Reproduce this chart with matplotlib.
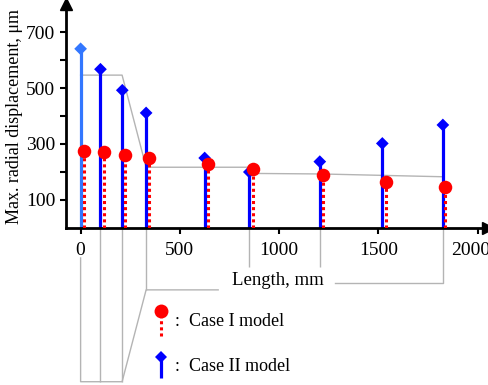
import numpy as np
import matplotlib.pyplot as plt
import matplotlib.transforms as mtransforms

plt.rcParams['font.family'] = ['Liberation Serif', 'DejaVu Serif']

# %% Data

# Case II model (blue diamonds, solid stems)
case2_x = [0, 100, 210, 330, 625, 850, 1205, 1520, 1825]
case2_y = [640, 567, 492, 411, 250, 200, 237, 302, 368]

# Case I model (red circles, dotted stems)
case1_x = [18, 120, 222, 347, 640, 866, 1222, 1538, 1838]
case1_y = [275, 270, 261, 250, 230, 211, 188, 165, 146]

# shaft outline sketch (gray)
top_x = [0, 209, 330, 850, 850, 1210, 1826]
top_y = [546, 546, 217, 217, 195, 193, 183]
bottom_x = [1826, 1826, 1282]
bottom_y = [183, -196, -196]
left_x = [693, 330, 209, 0, 0]
left_y = [-221, -221, -549, -549, -107]
drop_x = [100, 209, 330, 850, 1205]
drop_end = [-549, -549, -221, -138, -138]

x_ticks = [0, 500, 1000, 1500, 2000]
y_labels = [100, 300, 500, 700]

# %% Plot

fig = plt.figure(figsize=(4.89, 3.85), dpi=100)
ax = fig.add_axes([0.1344, 0.4078, 0.8626, 0.5818])
ax.set_xlim(-75, 2050)
ax.set_ylim(0, 800)

gray = "#b4b4b4"
ax.plot(top_x, top_y, color=gray, lw=1, zorder=1)
ax.plot(bottom_x, bottom_y, color=gray, lw=1, clip_on=False, zorder=1)
ax.plot(left_x, left_y, color=gray, lw=1, clip_on=False, zorder=1)
ax.vlines(drop_x, 0, drop_end, color=gray, lw=1, clip_on=False, zorder=1)

# stems
colors2 = ["#3377ff"] + ["#0000ff"] * (len(case2_x) - 1)
ax.vlines(case2_x, 0, case2_y, colors=colors2, lw=2.3, zorder=2)
ax.scatter(case2_x, case2_y, marker="D", s=42, c=colors2, zorder=3, linewidths=0)
ax.vlines(case1_x, 0, case1_y, colors="#ff0000", lw=2.2, linestyles=(0, (1, 1)), zorder=4)
ax.scatter(case1_x, case1_y, marker="o", s=95, c="#ff0000", zorder=5, linewidths=0)

# axes style
for s in ["top", "right"]:
    ax.spines[s].set_visible(False)
for s in ["left", "bottom"]:
    ax.spines[s].set_linewidth(2)
ax.plot(1, 0, ">k", ms=8, transform=ax.transAxes, clip_on=False)
ax.plot(0, 1, "^k", ms=8, transform=ax.transAxes, clip_on=False)

ax.set_xticks(x_ticks)
ax.set_yticks(np.arange(100, 800, 100))
ax.set_yticklabels([str(v) if v in y_labels else "" for v in np.arange(100, 800, 100)])
ax.tick_params(labelsize=14, width=1.5, length=4)
ax.tick_params(axis="x", pad=6)
ax.set_ylabel("Max. radial displacement, μm", fontsize=13, labelpad=2)

# last x label sits a bit left so it stays inside the figure
last = ax.get_xticklabels()[-1]
last.set_transform(last.get_transform() + mtransforms.ScaledTranslation(-7 / 100, 0, fig.dpi_scale_trans))

ax.text(992, -188, "Length, mm", fontsize=13.5, ha="center", va="center")

# legend drawn by hand
ax.vlines(404, -386, -295, colors="#ff0000", lw=2.2, linestyles=(0, (1, 1)), clip_on=False)
ax.plot(404, -295, "o", color="#ff0000", ms=10, mew=0, clip_on=False)
ax.text(475, -335, ":  Case I model", fontsize=13, va="center")
ax.vlines(404, -536, -461, colors="#0000ff", lw=2.3, clip_on=False)
ax.plot(404, -461, "D", color="#0000ff", ms=6.5, mew=0, clip_on=False)
ax.text(475, -495, ":  Case II model", fontsize=13, va="center")

fig.savefig("out.png")
